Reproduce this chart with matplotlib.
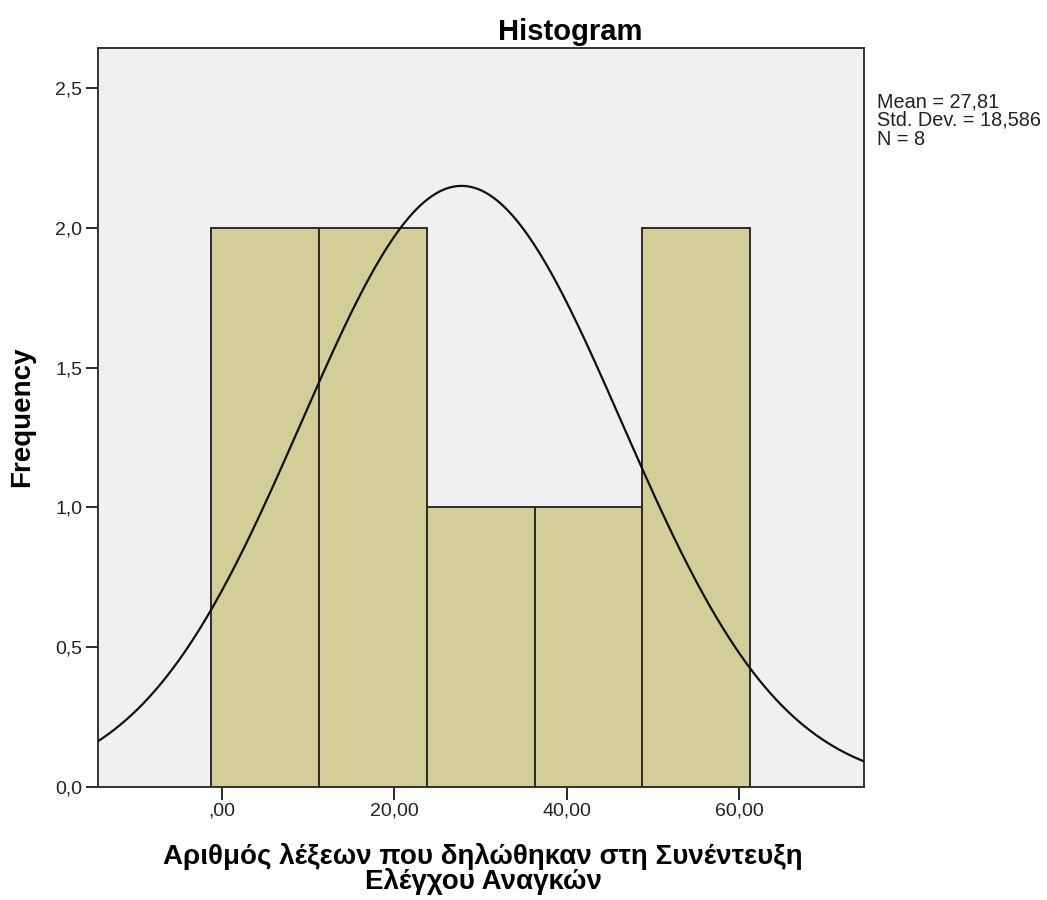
import numpy as np
import matplotlib
matplotlib.use("Agg")
import matplotlib.pyplot as plt

plt.rcParams["font.family"] = ["Liberation Sans", "DejaVu Sans"]

# histogram bins
bin_edges = [-1.28, 11.24, 23.76, 36.28, 48.80, 61.32]
counts = [2, 2, 1, 1, 2]

# stats from the legend text
mean = 27.81
std_dev = 18.586
n = 8

x_ticks = [0, 20, 40, 60]
x_tick_labels = [",00", "20,00", "40,00", "60,00"]
y_ticks = [0.0, 0.5, 1.0, 1.5, 2.0, 2.5]
y_tick_labels = ["0,0", "0,5", "1,0", "1,5", "2,0", "2,5"]

W, H = 1047, 900
fig = plt.figure(figsize=(W / 100, H / 100), dpi=100)
ax = fig.add_axes([97.7 / W, 1 - 787 / H, (864 - 97.7) / W, (787 - 48) / H])
ax.set_facecolor("#f0f0f0")

edges = np.array(bin_edges)
ax.bar(edges[:-1], counts, width=np.diff(edges), align="edge",
       color="#d3ce97", edgecolor="#2b2b2b", linewidth=1.4, zorder=2)

# fitted normal curve, scaled to counts
bw = np.mean(np.diff(edges))
xs = np.linspace(-14.4, 74.5, 400)
ys = n * bw / (std_dev * np.sqrt(2 * np.pi)) * np.exp(-0.5 * ((xs - mean) / std_dev) ** 2)
ax.plot(xs, ys, color="#111111", linewidth=1.6, zorder=3)

ax.set_xlim(-14.4, 74.5)
ax.set_ylim(0, 2.643)
ax.set_xticks(x_ticks)
ax.set_xticklabels(x_tick_labels)
ax.set_yticks(y_ticks)
ax.set_yticklabels(y_tick_labels)
ax.tick_params(direction="out", length=9, width=1.4, color="#2b2b2b",
               labelsize=14, labelcolor="#222222", pad=2)
for s in ax.spines.values():
    s.set_color("#333333")
    s.set_linewidth(1.4)

fig.text(570 / W, 1 - 40 / H, "Histogram", ha="center", va="baseline",
         fontsize=21, fontweight="bold")
fig.text(22 / W, 1 - 417 / H, "Frequency", ha="center", va="center",
         rotation=90, fontsize=20, fontweight="bold")
fig.text(483 / W, 1 - 843 / H,
         "Αριθμός λέξεων που δηλώθηκαν στη Συνέντευξη\nΕλέγχου Αναγκών",
         ha="center", va="top", ma="center", linespacing=0.92,
         fontsize=20, fontweight="bold")

stats = ["Mean = 27,81", "Std. Dev. = 18,586", "N = 8"]
for i, line in enumerate(stats):
    fig.text(877 / W, 1 - (107 + 19 * i) / H, line, ha="left", va="baseline",
             fontsize=14.3, color="#222222")

fig.savefig("out.png", dpi=100)
